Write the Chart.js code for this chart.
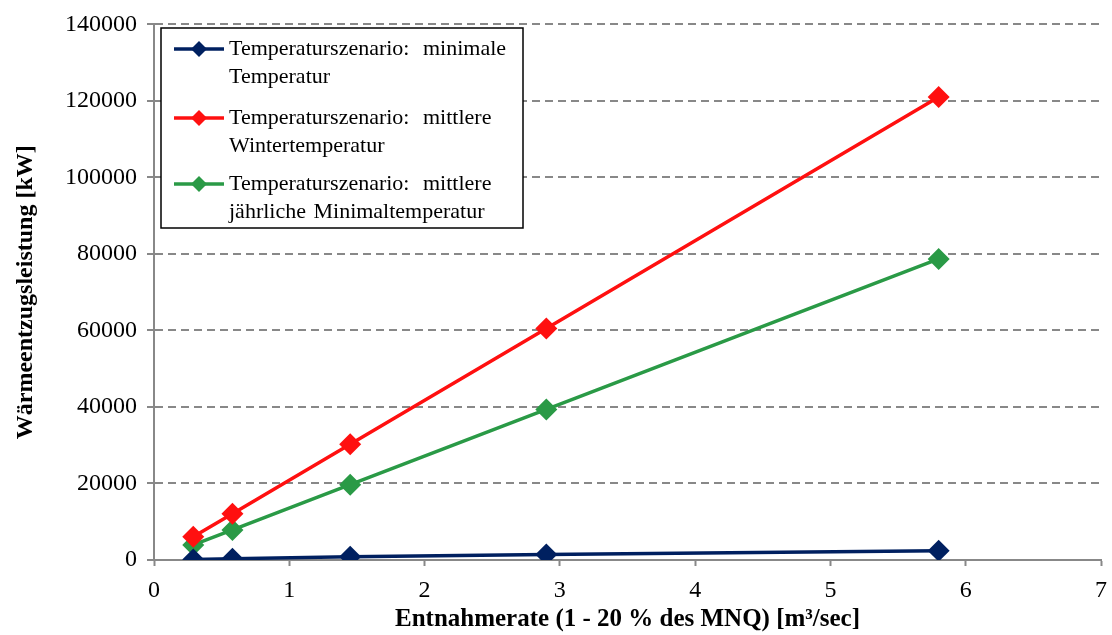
<!DOCTYPE html>
<html>
<head>
<meta charset="utf-8">
<script src="https://cdn.jsdelivr.net/npm/chart.js@4"></script>
<style>
    html, body { margin: 0; padding: 0; background: #fff; }
    #wrap { width: 1112px; height: 635px; }
</style>
</head>
<body>
<div id="wrap"><canvas id="chart" width="1112" height="635"></canvas></div>
<script>
// Entnahmerate in m³/sec (1, 2, 5, 10, 20 % des MNQ)
const entnahme = [0.29, 0.58, 1.45, 2.9, 5.8];
const minimaleTemp = [150, 350, 850, 1450, 2450];
const winterTemp = [6050, 12100, 30250, 60500, 121000];
const minimalJahr = [3935, 7870, 19675, 39350, 78700];

const seriesNames = [
    ['Temperaturszenario: minimale', 'Temperatur'],
    ['Temperaturszenario: mittlere', 'Wintertemperatur'],
    ['Temperaturszenario: mittlere', 'jährliche Minimaltemperatur']
];
const seriesColors = ['#002060', '#ff1010', '#2a9a46'];

const FONT = '"Liberation Serif", "Times New Roman", serif';

function toPoints(xs, ys) {
    return xs.map((x, i) => ({ x: x, y: ys[i] }));
}

function makeSet(i, values) {
    return {
        label: seriesNames[i].join(' '),
        data: toPoints(entnahme, values),
        borderColor: seriesColors[i],
        backgroundColor: seriesColors[i],
        borderWidth: 3.5,
        pointStyle: 'rectRot',
        pointRadius: 11,
        pointHoverRadius: 11,
        pointBorderWidth: 0,
        tension: 0
    };
}

// legend box drawn on the canvas, Excel style
const boxLegend = {
    id: 'boxLegend',
    afterDraw(chart) {
        const ctx = chart.ctx;
        const x0 = 161, y0 = 28, w = 362, h = 200;
        ctx.save();
        ctx.fillStyle = '#fff';
        ctx.fillRect(x0, y0, w, h);
        ctx.strokeStyle = '#000';
        ctx.lineWidth = 1.5;
        ctx.strokeRect(x0, y0, w, h);
        ctx.font = '22px ' + FONT;
        ctx.textBaseline = 'middle';
        const rowTops = [49, 118, 184];
        chart.data.datasets.forEach((ds, i) => {
            const cy = rowTops[i];
            ctx.strokeStyle = ds.borderColor;
            ctx.lineWidth = 3.5;
            ctx.beginPath();
            ctx.moveTo(174, cy);
            ctx.lineTo(224, cy);
            ctx.stroke();
            ctx.fillStyle = ds.borderColor;
            ctx.beginPath();
            ctx.moveTo(199, cy - 8);
            ctx.lineTo(207, cy);
            ctx.lineTo(199, cy + 8);
            ctx.lineTo(191, cy);
            ctx.closePath();
            ctx.fill();
            ctx.fillStyle = '#000';
            seriesNames[i].forEach((line, j) => {
                ctx.wordSpacing = j === 0 ? '8px' : '2px';
                ctx.fillText(line, 229, cy + j * 28);
            });
        });
        ctx.restore();
    }
};

new Chart(document.getElementById('chart'), {
    type: 'line',
    data: {
        datasets: [
            makeSet(0, minimaleTemp),
            makeSet(1, winterTemp),
            makeSet(2, minimalJahr)
        ]
    },
    options: {
        responsive: false,
        animation: false,
        layout: { padding: { left: 0, right: 0, top: 21, bottom: 0 } },
        plugins: {
            legend: { display: false },
            tooltip: { enabled: false }
        },
        scales: {
            x: {
                type: 'linear',
                min: 0,
                max: 7,
                ticks: {
                    stepSize: 1,
                    color: '#000',
                    font: { family: FONT, size: 24 },
                    padding: 10
                },
                grid: {
                    drawOnChartArea: false,
                    drawTicks: true,
                    tickLength: 6,
                    tickColor: '#888',
                    tickWidth: 2
                },
                border: { color: '#888', width: 2 },
                title: {
                    display: true,
                    text: 'Entnahmerate (1 - 20 % des MNQ) [m³/sec]',
                    color: '#000',
                    font: { family: FONT, size: 25, weight: 'bold' },
                    padding: { top: 2, bottom: 0 }
                },
                afterFit(scale) {
                    scale.height = 75;
                    scale.paddingRight = 7;
                }
            },
            y: {
                min: 0,
                max: 140000,
                ticks: {
                    stepSize: 20000,
                    color: '#000',
                    font: { family: FONT, size: 24 },
                    padding: 10,
                    callback: (v) => String(v)
                },
                grid: {
                    color: '#888',
                    lineWidth: 2,
                    tickLength: 7,
                    tickColor: '#888',
                    tickWidth: 2,
                    tickBorderDash: [1, 0]
                },
                border: { color: '#888', width: 2, dash: [8, 5] },
                title: {
                    display: true,
                    text: 'Wärmeentzugsleistung [kW]',
                    color: '#000',
                    font: { family: FONT, size: 24, weight: 'bold' },
                    padding: { top: 11, bottom: 0 }
                },
                afterFit(scale) { scale.width = 154; }
            }
        }
    },
    plugins: [boxLegend]
});
</script>
</body>
</html>
